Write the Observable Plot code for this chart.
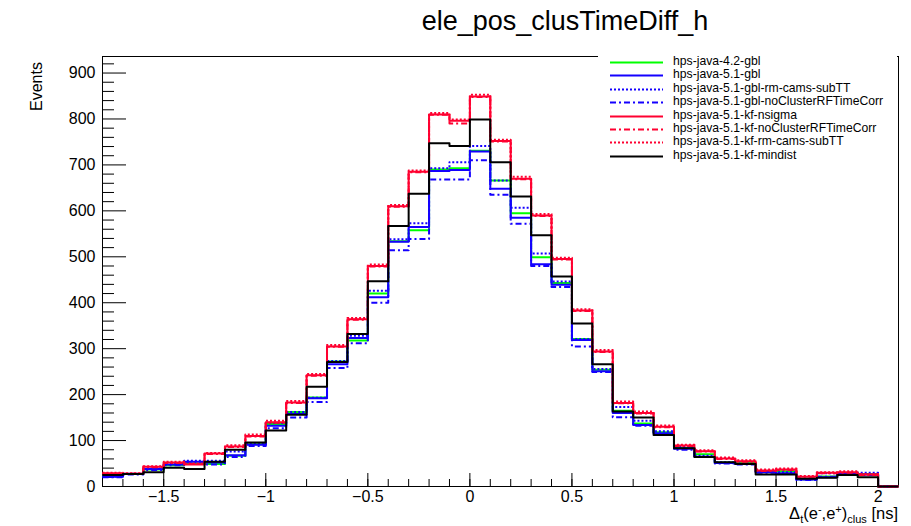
<!DOCTYPE html>
<html><head><meta charset="utf-8">
<script src="https://cdn.jsdelivr.net/npm/d3@7"></script>
<script src="https://cdn.jsdelivr.net/npm/@observablehq/plot@0.6"></script>
<style>
body{margin:0;background:#fff;font-family:"Liberation Sans",Arial,sans-serif;}
#wrap{position:relative;width:911px;height:526px;overflow:hidden;}
#title{position:absolute;left:0;width:1130px;top:6px;text-align:center;font-size:27px;white-space:nowrap;}
#ylab{position:absolute;left:28px;top:63px;font-size:16px;transform-origin:0 0;transform:translate(0,48px) rotate(-90deg);white-space:nowrap;}
#xlab{position:absolute;right:13px;top:506px;font-size:16.5px;line-height:14px;white-space:nowrap;}
#xlab .sb{position:relative;top:4px;font-size:11px;}
#xlab .sp{position:relative;top:-6px;font-size:11px;}
#legend{position:absolute;left:598px;top:56px;width:299px;height:108px;background:#fff;}
.row{position:absolute;left:0;height:13px;font-size:12.2px;line-height:13px;white-space:nowrap;}
.row svg{position:absolute;left:12px;top:0;}
.row span{position:absolute;left:75px;top:-1px;}
</style></head><body><div id="wrap"></div>
<script>
// bin left edges (width 0.1), last edge 2.1
const binEdges = [-1.8,-1.7,-1.6,-1.5,-1.4,-1.3,-1.2,-1.1,-1.0,-0.9,-0.8,-0.7,-0.6,-0.5,-0.4,-0.3,-0.2,-0.1,0.0,0.1,0.2,0.3,0.4,0.5,0.6,0.7,0.8,0.9,1.0,1.1,1.2,1.3,1.4,1.5,1.6,1.7,1.8,1.9,2.0];
const xUpper = 2.1;

const seriesNames = ["hps-java-4.2-gbl","hps-java-5.1-gbl","hps-java-5.1-gbl-rm-cams-subTT","hps-java-5.1-gbl-noClusterRFTimeCorr","hps-java-5.1-kf-nsigma","hps-java-5.1-kf-noClusterRFTimeCorr","hps-java-5.1-kf-rm-cams-subTT","hps-java-5.1-kf-mindist"];
const seriesColors = ["#00ff00","#1400ff","#1400ff","#1400ff","#ff0030","#ff0030","#ff0030","#000000"];
const seriesDash = [null,null,"2 2","6 3 2 3",null,"6 3 2 3","2 2",null];

const gbl42 = [23,27,37,46,50,49,67,92,136,162,194,272,318,420,534,558,690,693,731,666,595,499,443,321,254,165,137,118,84,70,52,51,32,33,16,22,28,27,0];
const gbl51 = [21,27,38,48,54,52,68,91,132,158,192,266,323,412,533,565,687,689,729,648,585,484,439,319,251,160,134,116,82,65,51,49,31,29,15,20,28,26,0];
const gblRmCams = [22,28,39,49,56,56,76,93,138,162,193,273,328,426,538,573,693,706,741,666,607,507,446,321,256,173,143,120,86,67,53,50,33,31,16,29,29,30,0];
const gblNoRF = [20,26,36,46,53,48,64,88,127,150,184,258,312,400,514,539,668,668,710,635,572,480,434,305,249,151,132,113,80,64,50,48,30,28,14,21,27,25,0];
const kfNsigma = [29,28,43,52,48,72,87,110,140,183,242,305,364,480,610,685,810,796,849,752,670,590,495,383,294,182,160,130,89,77,61,55,35,37,21,30,31,26,0];
const kfNoRF = [28,28,42,51,49,71,86,109,139,182,241,304,363,479,609,684,809,790,848,751,669,589,494,382,293,181,159,129,88,76,60,54,34,36,21,29,30,25,0];
const kfRmCams = [30,29,44,54,50,73,90,113,143,186,245,308,367,483,613,688,813,799,853,755,674,593,498,386,297,185,163,133,91,79,63,57,37,39,23,31,33,27,0];
const kfMindist = [25,27,31,41,38,54,80,96,122,156,217,271,332,447,567,637,747,741,799,706,631,547,457,355,266,163,150,112,83,64,53,49,26,26,17,19,25,20,0];
const seriesValues = [gbl42,gbl51,gblRmCams,gblNoRF,kfNsigma,kfNoRF,kfRmCams,kfMindist];

const xTickLabels = [-1.5,-1,-0.5,0,0.5,1,1.5,2];
const xMinorTicks = d3.range(-17,21).map(i=>i/10);
const yTickLabels = [0,100,200,300,400,500,600,700,800,900];
const yMinorTicks = d3.range(1,47).map(i=>i*20);

const W=911,H=526,mL=102,mR=13,mT=56,mB=40;
const frameW=W-mL-mR, frameH=H-mT-mB;

function rows(vals){
  const r = binEdges.map((e,i)=>({x:e,y:vals[i]}));
  r.push({x:xUpper,y:vals[vals.length-1]});
  return r;
}

const marks = [
  Plot.tickY(yMinorTicks.filter(v=>v%100!==0),{y:d=>d,stroke:"#000",insetRight:frameW-12}),
  Plot.tickY(yTickLabels,{y:d=>d,stroke:"#000",insetRight:frameW-24}),
  Plot.tickX(xMinorTicks,{x:d=>d,stroke:"#000",insetTop:frameH-7}),
  Plot.tickX(xTickLabels,{x:d=>d,stroke:"#000",insetTop:frameH-13}),
  Plot.frame({stroke:"#000",strokeWidth:1}),
  Plot.axisY(yTickLabels,{tickSize:0,tickPadding:7,label:null,fontSize:16,tickFormat:d=>String(d)}),
  Plot.axisX(xTickLabels,{tickSize:0,tickPadding:4,label:null,fontSize:16,tickFormat:d=>(d<0?"\u2212":"")+String(Math.abs(d))})
];
seriesValues.forEach((vals,i)=>{
  marks.push(Plot.line(rows(vals),{x:"x",y:"y",curve:"step-after",stroke:seriesColors[i],strokeWidth:2,strokeDasharray:seriesDash[i],strokeLinecap:"butt"}));
});

const chart = Plot.plot({
  width:W,height:H,marginLeft:mL,marginRight:mR,marginTop:mT,marginBottom:mB,
  style:{fontFamily:"Liberation Sans, Arial, sans-serif",fontSize:"16px",color:"#000",background:"#fff"},
  x:{domain:[-1.8,2.1]},
  y:{domain:[0,936]},
  marks
});
const wrap=document.getElementById("wrap");
wrap.appendChild(chart);

const t=document.createElement("div");t.id="title";t.textContent="ele_pos_clusTimeDiff_h";wrap.appendChild(t);
const yl=document.createElement("div");yl.id="ylab";yl.textContent="Events";wrap.appendChild(yl);
const xl=document.createElement("div");xl.id="xlab";xl.innerHTML="\u0394<span class='sb'>t</span>(e<span class='sp'>-</span>,e<span class='sp'>+</span>)<span class='sb'>clus</span> [ns]";wrap.appendChild(xl);

const lg=document.createElement("div");lg.id="legend";wrap.appendChild(lg);
seriesNames.forEach((n,i)=>{
  const r=document.createElement("div");r.className="row";r.style.top=(i*13.4)+"px";
  const dash=seriesDash[i]?`stroke-dasharray="${seriesDash[i]}"`:"";
  r.innerHTML=`<svg width="54" height="13"><line x1="0" x2="53" y1="6.5" y2="6.5" stroke="${seriesColors[i]}" stroke-width="2" ${dash}/></svg><span>${n}</span>`;
  lg.appendChild(r);
});
</script></body></html>
